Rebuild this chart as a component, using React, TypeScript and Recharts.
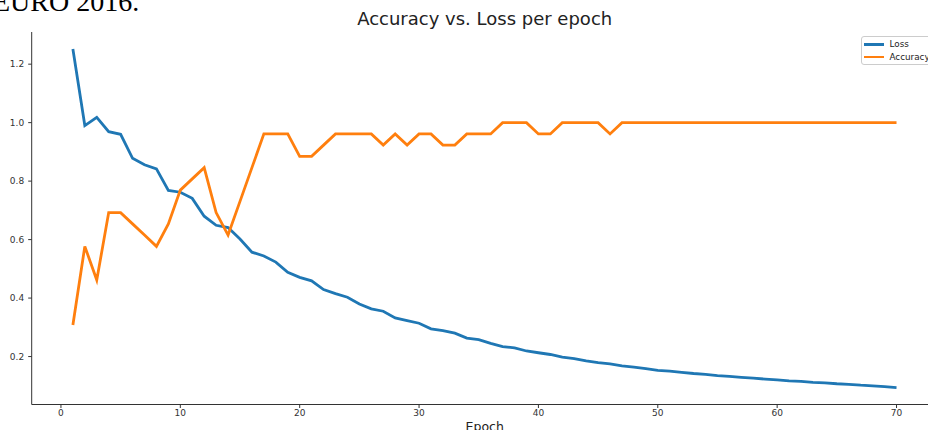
import React from "react";
import { LineChart, Line, XAxis, YAxis } from "recharts";

const epochs = [
  1, 2, 3, 4, 5, 6, 7, 8, 9, 10, 11, 12, 13, 14, 15, 16, 17, 18, 19, 20,
  21, 22, 23, 24, 25, 26, 27, 28, 29, 30, 31, 32, 33, 34, 35, 36, 37, 38, 39, 40,
  41, 42, 43, 44, 45, 46, 47, 48, 49, 50, 51, 52, 53, 54, 55, 56, 57, 58, 59, 60,
  61, 62, 63, 64, 65, 66, 67, 68, 69, 70,
];

const loss = [
  1.252, 0.99, 1.018, 0.969, 0.96, 0.878, 0.856, 0.842, 0.768, 0.762,
  0.741, 0.68, 0.649, 0.641, 0.602, 0.557, 0.544, 0.523, 0.488, 0.471,
  0.459, 0.429, 0.415, 0.403, 0.38, 0.363, 0.355, 0.332, 0.323, 0.314,
  0.295, 0.289, 0.28, 0.263, 0.258, 0.245, 0.234, 0.23, 0.219, 0.213,
  0.207, 0.198, 0.193, 0.185, 0.179, 0.175, 0.168, 0.164, 0.159, 0.153,
  0.15, 0.146, 0.142, 0.139, 0.135, 0.132, 0.129, 0.126, 0.123, 0.12,
  0.117, 0.115, 0.112, 0.11, 0.107, 0.105, 0.102, 0.1, 0.097, 0.094,
];

const accuracy = [
  0.3077, 0.5769, 0.4615, 0.6923, 0.6923, 0.6538, 0.6154, 0.5769, 0.6538, 0.7692,
  0.8077, 0.8462, 0.6923, 0.6154, 0.7308, 0.8462, 0.9615, 0.9615, 0.9615, 0.8846,
  0.8846, 0.9231, 0.9615, 0.9615, 0.9615, 0.9615, 0.9231, 0.9615, 0.9231, 0.9615,
  0.9615, 0.9231, 0.9231, 0.9615, 0.9615, 0.9615, 1, 1, 1, 0.9615,
  0.9615, 1, 1, 1, 1, 0.9615, 1, 1, 1, 1,
  1, 1, 1, 1, 1, 1, 1, 1, 1, 1,
  1, 1, 1, 1, 1, 1, 1, 1, 1, 1,
];

const xTicks = [0, 10, 20, 30, 40, 50, 60, 70];
const yTicks = [0.2, 0.4, 0.6, 0.8, 1.0, 1.2];

const LOSS_COLOR = "#1f77b4";
const ACC_COLOR = "#ff7f0e";
const AXIS_COLOR = "#333";
const FONT = "'DejaVu Sans', sans-serif";

const data = epochs.map((e, i) => ({ epoch: e, Loss: loss[i], Accuracy: accuracy[i] }));

const legendItems = [
  { name: "Loss", color: LOSS_COLOR },
  { name: "Accuracy", color: ACC_COLOR },
];

const LegendBox = () => (
  <div
    style={{
      position: "absolute",
      left: 860.5,
      top: 36,
      border: "1px solid #cccccc",
      borderRadius: 3,
      background: "rgba(255,255,255,0.8)",
      padding: "1px 30px 1px 2px",
      fontFamily: FONT,
      fontSize: 8.8,
      color: "#222",
      lineHeight: "12.5px",
      whiteSpace: "nowrap",
    }}
  >
    {legendItems.map((it) => (
      <div key={it.name} style={{ display: "flex", alignItems: "center" }}>
        <span style={{ display: "inline-block", width: 20, height: 2.5, background: it.color, marginRight: 6 }} />
        {it.name}
      </div>
    ))}
  </div>
);

export default function App() {
  return (
    <div
      style={{
        position: "absolute",
        left: 0,
        top: 0,
        width: 928,
        height: 430,
        overflow: "hidden",
        background: "#fff",
      }}
    >
      {/* cut-off heading from the page above the chart */}
      <div
        style={{
          position: "absolute",
          left: -7,
          top: -11.6,
          fontFamily: "'Liberation Serif', serif",
          fontSize: 28,
          lineHeight: "28px",
          color: "#000",
          whiteSpace: "nowrap",
        }}
      >
        EURO 2016.
      </div>
      <div style={{ position: "absolute", left: 0, top: 0 }}>
        <LineChart width={960} height={430} data={data} margin={{ top: 32, right: 22.3, left: 30.7, bottom: 24.5 }}>
          <XAxis
            type="number"
            dataKey="epoch"
            domain={[-2.45, 73.45]}
            ticks={xTicks}
            allowDataOverflow
            height={1}
            tickSize={3.5}
            tickMargin={2}
            stroke={AXIS_COLOR}
            tick={{ fill: "#333", fontSize: 9, fontFamily: FONT }}
          />
          <YAxis
            type="number"
            domain={[0.036, 1.31]}
            ticks={yTicks}
            allowDataOverflow
            width={1}
            tickSize={3.5}
            tickMargin={4}
            stroke={AXIS_COLOR}
            tickFormatter={(v: number) => v.toFixed(1)}
            tick={{ fill: "#333", fontSize: 9, fontFamily: FONT }}
          />
          <Line
            type="linear"
            dataKey="Loss"
            stroke={LOSS_COLOR}
            strokeWidth={2.8}
            dot={false}
            isAnimationActive={false}
          />
          <Line
            type="linear"
            dataKey="Accuracy"
            stroke={ACC_COLOR}
            strokeWidth={2.8}
            dot={false}
            isAnimationActive={false}
          />
        </LineChart>
      </div>
      <div
        style={{
          position: "absolute",
          left: 284.7,
          width: 400,
          top: 7.5,
          textAlign: "center",
          fontFamily: FONT,
          fontSize: 18,
          lineHeight: "21px",
          color: "#222",
          whiteSpace: "nowrap",
        }}
      >
        Accuracy vs. Loss per epoch
      </div>
      <div
        style={{
          position: "absolute",
          left: 384.7,
          width: 200,
          top: 420,
          textAlign: "center",
          fontFamily: FONT,
          fontSize: 12.5,
          lineHeight: "14px",
          color: "#222",
        }}
      >
        Epoch
      </div>
      <LegendBox />
    </div>
  );
}
